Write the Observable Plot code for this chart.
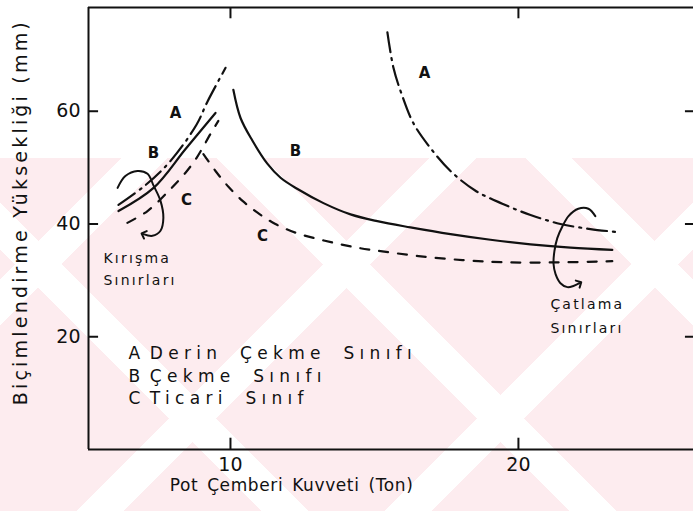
<!DOCTYPE html>
<html>
<head>
<meta charset="utf-8">
<script src="https://cdn.jsdelivr.net/npm/d3@7"></script>
<script src="https://cdn.jsdelivr.net/npm/@observablehq/plot@0.6"></script>
<style>
  html, body { margin: 0; padding: 0; background: #fff; }
  #chart { position: relative; width: 693px; height: 511px; overflow: hidden; }
  #wm {
    position: absolute; left: 0; top: 158px; width: 693px; height: 353px;
    background-color: #fdecef;
    background-image:
      repeating-linear-gradient(45deg, transparent 0 185px, #fff 185px 218px),
      repeating-linear-gradient(-45deg, transparent 0 185px, #fff 185px 218px);
  }
  #chart svg { position: absolute; left: 0; top: 0; }
  g[aria-description="legend"] text { letter-spacing: 5.3px; word-spacing: 7px; }
  g[aria-description="note"] text { letter-spacing: 2.2px; }
  g[aria-description="ylabel"] text { letter-spacing: 3.2px; }
  g[aria-description="xlabel"] text { letter-spacing: 0.6px; word-spacing: 3px; }
</style>
</head>
<body>
<div id="chart"><div id="wm"></div></div>
<script>
// Axes
const xDomain = [5.07, 26.08];
const yDomain = [0, 78.4];
const xTicks = [10, 20];
const yTicks = [20, 40, 60];
const xLabel = "Pot Çemberi Kuvveti (Ton)";
const yLabel = "Biçimlendirme Yüksekliği (mm)";

// A – Derin Çekme Sınıfı: wrinkling limit (left) and fracture limit (right)
const aLeftX  = [6.11, 7.05, 7.92, 8.82, 9.20, 9.83];
const aLeftY  = [43.4, 46.9, 51.2, 57.6, 61.7, 67.7];
const aRightX = [15.45, 15.66, 15.94, 16.35, 16.94, 17.64, 18.51, 19.44, 20.42, 21.46, 22.50, 23.37];
const aRightY = [74.0, 67.7, 63.1, 57.9, 53.5, 49.4, 45.9, 43.6, 41.6, 40.0, 39.1, 38.6];

// B – Çekme Sınıfı
const bLeftX  = [6.11, 7.33, 8.44, 9.48];
const bLeftY  = [42.3, 46.4, 53.3, 59.7];
const bRightX = [10.10, 10.35, 10.76, 11.28, 11.74, 12.33, 13.23, 14.17, 15.10, 16.25, 17.64, 19.03, 20.42, 21.81, 23.26];
const bRightY = [63.8, 58.8, 54.8, 50.7, 48.2, 46.2, 43.7, 41.7, 40.5, 39.4, 38.2, 37.2, 36.4, 35.8, 35.4];

// C – Ticari Sınıf
const cLeftX  = [6.42, 7.12, 7.92, 8.44, 8.82, 9.31, 9.58];
const cLeftY  = [40.2, 42.3, 46.2, 49.1, 51.7, 56.0, 58.3];
const cRightX = [9.06, 9.48, 9.93, 10.42, 10.94, 11.56, 12.29, 13.06, 13.82, 14.51, 15.21, 16.53, 18.06, 19.55, 21.46, 23.26];
const cRightY = [52.4, 49.4, 46.6, 44.1, 42.0, 40.0, 38.4, 37.3, 36.4, 35.7, 35.2, 34.3, 33.6, 33.2, 33.2, 33.4];

// Curve letters
const curveLetters = ["A", "B", "C", "B", "C", "A"];
const curveLetterX = [8.09, 7.33, 8.47, 12.26, 11.11, 16.74];
const curveLetterY = [59.7, 52.6, 44.3, 53.0, 37.9, 66.8];

// Limit annotations (curled arrows and their captions)
const wrinkleArrowX = [6.08, 6.35, 6.77, 7.12, 7.33, 7.57, 7.67, 7.57, 7.29, 6.98];
const wrinkleArrowY = [46.4, 48.5, 49.4, 48.9, 46.8, 44.1, 41.1, 38.8, 37.9, 38.2];
const fractureArrowX = [22.67, 22.43, 22.08, 21.74, 21.53, 21.35, 21.25, 21.22, 21.29, 21.46, 21.70, 21.91, 22.12];
const fractureArrowY = [41.4, 42.7, 42.7, 41.4, 39.6, 37.5, 35.2, 32.9, 31.1, 29.5, 28.8, 29.0, 29.5];
const noteText = ["Kırışma", "Sınırları", "Çatlama", "Sınırları"];
const noteX = [5.59, 5.59, 21.11, 21.11];
const noteY = [33.8, 29.9, 25.8, 21.5];

// Key
const keyLetters = ["A", "B", "C"];
const keyNames = ["Derin Çekme Sınıfı", "Çekme Sınıfı", "Ticari Sınıf"];
const keyY = [17.1, 13.0, 9.1];
const keyLetterX = 6.46;
const keyNameX = 7.2;

const pts = (xs, ys) => xs.map((x, i) => ({x, y: ys[i]}));

const ink = "#111";
const font = "DejaVu Sans, Verdana, sans-serif";
const dashA = "20,6,2,6";
const dashC = "9,10";

const curve = (xs, ys, dash) => Plot.line(pts(xs, ys), {
  x: "x", y: "y", curve: "catmull-rom", stroke: ink, strokeWidth: 2.2,
  strokeDasharray: dash
});

const chart = Plot.plot({
  width: 693,
  height: 511,
  marginLeft: 88,
  marginRight: 0,
  marginTop: 7,
  marginBottom: 62,
  style: {background: "transparent", fontFamily: font, fontSize: "19px", color: ink},
  x: {domain: xDomain},
  y: {domain: yDomain},
  marks: [
    // frame (left, bottom, top)
    Plot.ruleX([xDomain[0]], {stroke: ink, strokeWidth: 2}),
    Plot.ruleY([yDomain[0], yDomain[1]], {stroke: ink, strokeWidth: 2}),
    // inward ticks on all sides
    Plot.ruleY(yTicks, {x1: xDomain[0], x2: xDomain[0] + 0.35, stroke: ink, strokeWidth: 2}),
    Plot.ruleY(yTicks, {x1: xDomain[1] - 0.28, x2: xDomain[1], stroke: ink, strokeWidth: 2}),
    Plot.ruleX(xTicks, {y1: yDomain[0], y2: yDomain[0] + 2, stroke: ink, strokeWidth: 2}),
    Plot.ruleX(xTicks, {y1: yDomain[1] - 2, y2: yDomain[1], stroke: ink, strokeWidth: 2}),
    // tick labels
    Plot.axisX(xTicks, {tickSize: 0, tickPadding: 8, fontSize: 19, fill: ink, label: null}),
    Plot.axisY(yTicks, {tickSize: 0, tickPadding: 8, fontSize: 19, fill: ink, label: null}),
    // axis titles
    Plot.text([{t: xLabel, x: 12.12}], {
      x: "x", text: "t", frameAnchor: "bottom", dy: 41, fontSize: 17, fill: ink,
      ariaDescription: "xlabel"
    }),
    Plot.text([{t: yLabel, y: 42.1}], {
      y: "y", text: "t", frameAnchor: "left", textAnchor: "middle", dx: -68, rotate: -90,
      fontSize: 19, fill: ink, ariaDescription: "ylabel"
    }),
    // limit curves
    curve(aLeftX, aLeftY, dashA),
    curve(aRightX, aRightY, dashA),
    curve(bLeftX, bLeftY, null),
    curve(bRightX, bRightY, null),
    curve(cLeftX, cLeftY, dashC),
    curve(cRightX, cRightY, dashC),
    // curled arrows
    Plot.line(pts(wrinkleArrowX, wrinkleArrowY), {
      x: "x", y: "y", curve: "catmull-rom", stroke: ink, strokeWidth: 2, markerEnd: "arrow"
    }),
    Plot.line(pts(fractureArrowX, fractureArrowY), {
      x: "x", y: "y", curve: "catmull-rom", stroke: ink, strokeWidth: 2, markerEnd: "arrow"
    }),
    // curve letters
    Plot.text(curveLetters.map((t, i) => ({t, x: curveLetterX[i], y: curveLetterY[i]})), {
      x: "x", y: "y", text: "t", fontSize: 15, fontWeight: "bold", fill: ink
    }),
    // captions for the limits
    Plot.text(noteText.map((t, i) => ({t, x: noteX[i], y: noteY[i]})), {
      x: "x", y: "y", text: "t", textAnchor: "start", fontSize: 14, fill: ink,
      ariaDescription: "note"
    }),
    // key
    Plot.text(keyLetters.map((t, i) => ({t, y: keyY[i]})), {
      x: () => keyLetterX, y: "y", text: "t", textAnchor: "start", fontSize: 17, fill: ink
    }),
    Plot.text(keyNames.map((t, i) => ({t, y: keyY[i]})), {
      x: () => keyNameX, y: "y", text: "t", textAnchor: "start", fontSize: 17, fill: ink,
      ariaDescription: "legend"
    })
  ]
});

document.getElementById("chart").appendChild(chart);
</script>
</body>
</html>
